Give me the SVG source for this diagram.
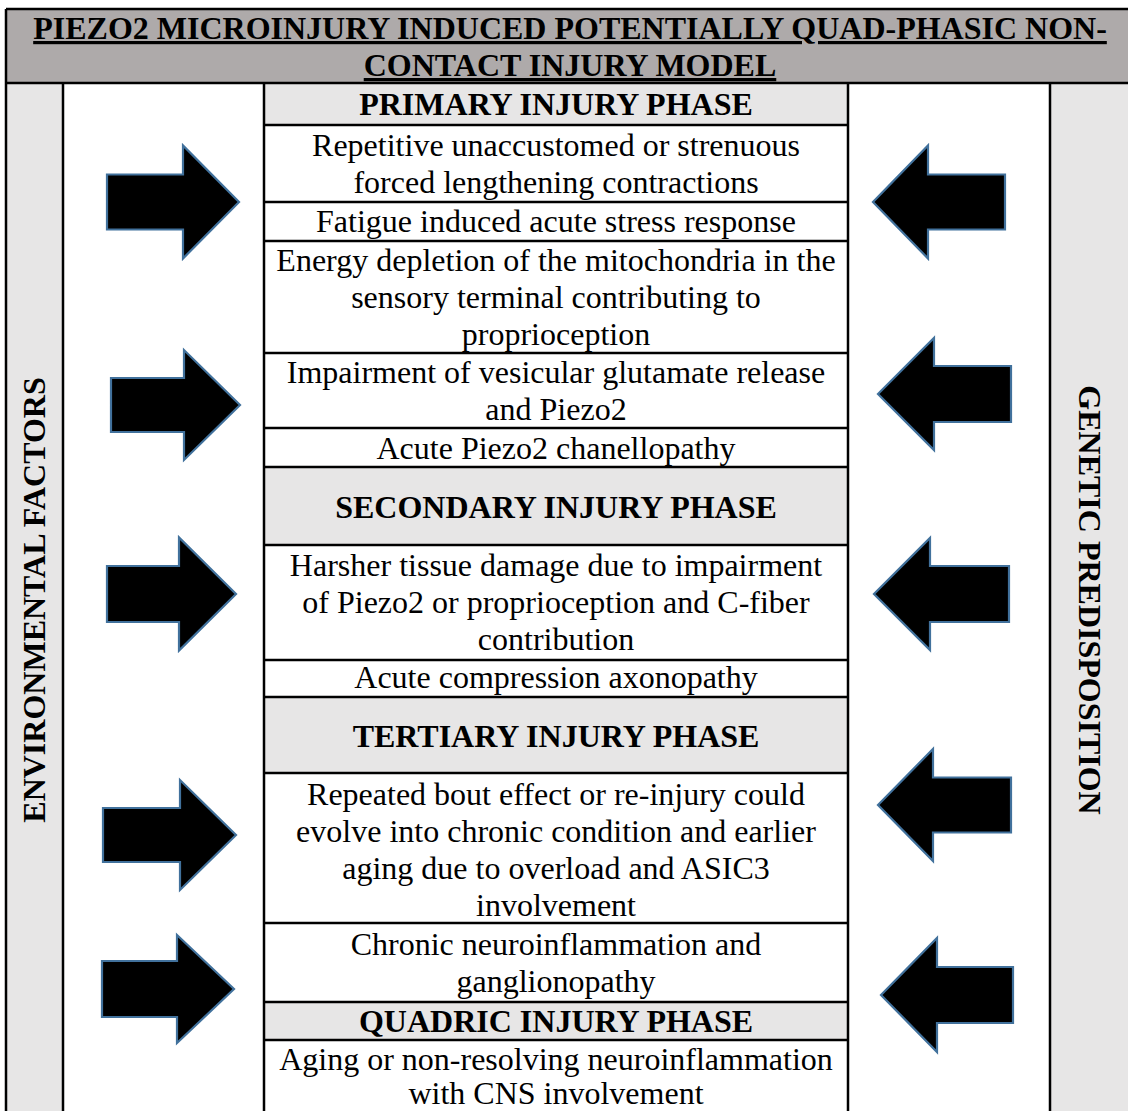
<svg xmlns="http://www.w3.org/2000/svg" width="1128" height="1111" viewBox="0 0 1128 1111">
<style>
.t{font-family:"Liberation Serif","Times New Roman",serif;font-size:32px;fill:#000;text-anchor:middle}
.b{font-weight:bold}
.ln{stroke:#000;stroke-width:2.5;fill:none}
.hdr{fill:#aeaaaa}
.lg{fill:#e7e6e6}
.arr{fill:#000;stroke:#41719c;stroke-width:2.2;stroke-linejoin:miter}
</style>
<rect width="1128" height="1111" fill="#fff"/>
<g id="title">
<rect class="hdr" x="6" y="9" width="1122" height="74"/>
<text class="t b" x="570" y="39" text-decoration="underline">PIEZO2 MICROINJURY INDUCED POTENTIALLY QUAD-PHASIC NON-</text>
<text class="t b" x="570" y="76" text-decoration="underline">CONTACT INJURY MODEL</text>
</g>
<g id="environmental">
<rect class="lg" x="6" y="83" width="57" height="1028"/>
<text class="t b" transform="translate(45,600) rotate(-90)">ENVIRONMENTAL FACTORS</text>
</g>
<g id="genetic">
<rect class="lg" x="1050" y="83" width="78" height="1028"/>
<text class="t b" transform="translate(1079,600) rotate(90)">GENETIC PREDISPOSITION</text>
</g>
<g id="primary-phase">
<rect class="lg" x="264" y="83" width="584" height="42"/>
<text class="t b" x="556" y="115">PRIMARY INJURY PHASE</text>
</g>
<g id="repetitive">
<text class="t" x="556" y="156">Repetitive unaccustomed or strenuous</text>
<text class="t" x="556" y="193">forced lengthening contractions</text>
</g>
<g id="fatigue">
<text class="t" x="556" y="232">Fatigue induced acute stress response</text>
</g>
<g id="energy">
<text class="t" x="556" y="271">Energy depletion of the mitochondria in the</text>
<text class="t" x="556" y="308">sensory terminal contributing to</text>
<text class="t" x="556" y="345">proprioception</text>
</g>
<g id="impairment">
<text class="t" x="556" y="383">Impairment of vesicular glutamate release</text>
<text class="t" x="556" y="420">and Piezo2</text>
</g>
<g id="channelopathy">
<text class="t" x="556" y="459">Acute Piezo2 chanellopathy</text>
</g>
<g id="secondary-phase">
<rect class="lg" x="264" y="467" width="584" height="78"/>
<text class="t b" x="556" y="518">SECONDARY INJURY PHASE</text>
</g>
<g id="harsher">
<text class="t" x="556" y="576">Harsher tissue damage due to impairment</text>
<text class="t" x="556" y="613">of Piezo2 or proprioception and C-fiber</text>
<text class="t" x="556" y="650">contribution</text>
</g>
<g id="axonopathy">
<text class="t" x="556" y="688">Acute compression axonopathy</text>
</g>
<g id="tertiary-phase">
<rect class="lg" x="264" y="697" width="584" height="76"/>
<text class="t b" x="556" y="747">TERTIARY INJURY PHASE</text>
</g>
<g id="repeated-bout">
<text class="t" x="556" y="805">Repeated bout effect or re-injury could</text>
<text class="t" x="556" y="842">evolve into chronic condition and earlier</text>
<text class="t" x="556" y="879">aging due to overload and ASIC3</text>
<text class="t" x="556" y="916">involvement</text>
</g>
<g id="chronic">
<text class="t" x="556" y="955">Chronic neuroinflammation and</text>
<text class="t" x="556" y="992">ganglionopathy</text>
</g>
<g id="quadric-phase">
<rect class="lg" x="264" y="1002" width="584" height="38"/>
<text class="t b" x="556" y="1032">QUADRIC INJURY PHASE</text>
</g>
<g id="aging">
<text class="t" x="556" y="1070">Aging or non-resolving neuroinflammation</text>
<text class="t" x="556" y="1104">with CNS involvement</text>
</g>
<g id="grid">
<path class="ln" d="M6,9H1128M6,83H1128M6,9V1111M63,83V1111M264,83V1111M848,83V1111M1050,83V1111"/>
<path class="ln" d="M264,125H848M264,202H848M264,241H848M264,353H848M264,428H848M264,467H848M264,545H848M264,660H848M264,697H848M264,773H848M264,923H848M264,1002H848M264,1040H848"/>
</g>
<g id="connectors">
<polygon class="arr" points="107,174.5 183,174.5 183,145.5 239,202 183,258.5 183,229.5 107,229.5"/>
<polygon class="arr" points="111,378 184,378 184,350 240,405 184,460 184,432 111,432"/>
<polygon class="arr" points="107,566 179,566 179,537.5 236,594 179,650.5 179,622 107,622"/>
<polygon class="arr" points="103,808 180,808 180,780 236,835 180,890 180,862 103,862"/>
<polygon class="arr" points="102,961 177,961 177,935 234,989 177,1043 177,1017 102,1017"/>
<polygon class="arr" points="1005,174.5 928,174.5 928,145.5 873,202 928,258.5 928,229.5 1005,229.5"/>
<polygon class="arr" points="1011,366 934,366 934,338 878,394 934,450 934,422 1011,422"/>
<polygon class="arr" points="1009,566 930,566 930,538 874,594 930,650 930,622 1009,622"/>
<polygon class="arr" points="1011,777.5 933,777.5 933,749 878,805 933,861 933,832.5 1011,832.5"/>
<polygon class="arr" points="1013,967 937,967 937,938 881,995 937,1052 937,1023 1013,1023"/>
</g>
</svg>
